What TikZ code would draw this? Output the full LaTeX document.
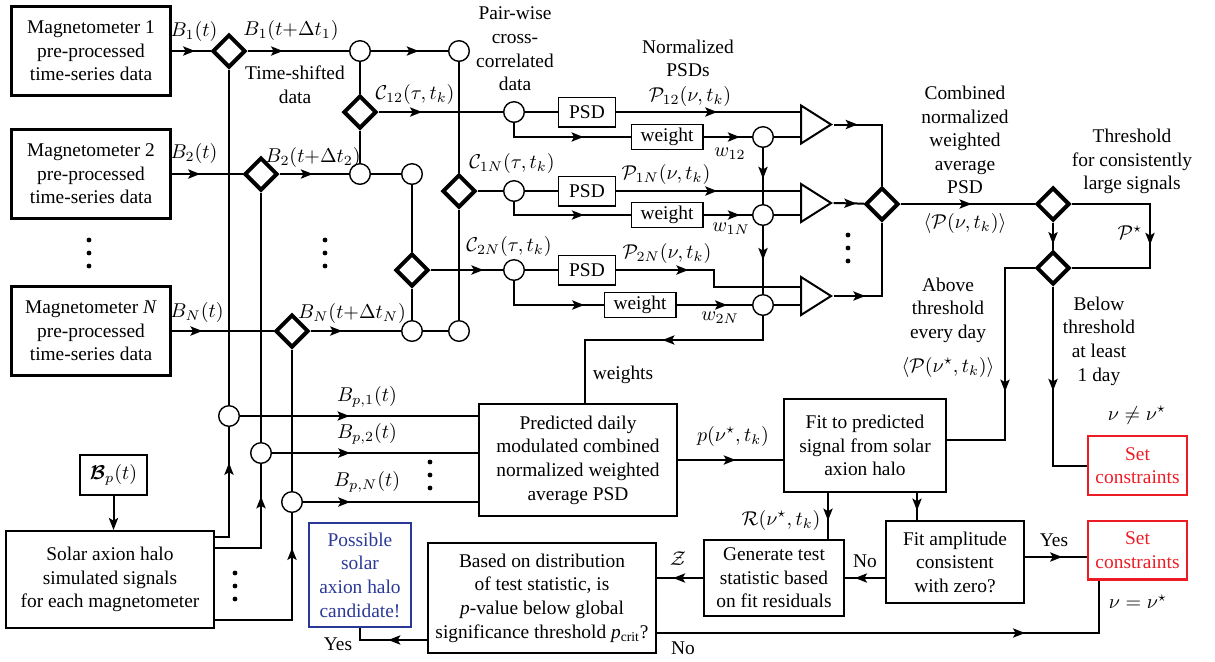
\documentclass[tikz,border=0pt]{standalone}
\usepackage{amsmath,amssymb}
\usepackage{bm}
\usepackage{fontspec}
\setmainfont{Liberation Serif}[Scale=0.97]
\usepackage{tikz}
\usetikzlibrary{positioning, shapes.geometric, arrows.meta, calc, decorations.markings}
\usepackage{xcolor}
\definecolor{setred}{RGB}{237,28,36}
\definecolor{candblue}{RGB}{43,57,150}
\newcommand{\figfont}{\fontsize{10pt}{11.8pt}\selectfont}

\begin{document}
\begin{tikzpicture}[x=0.5pt, y=-0.5pt, font=\figfont, line width=1pt,
    magbox/.style={draw, line width=1.5pt, align=center, minimum width=79.5pt, minimum height=44.5pt, inner sep=1pt},
    block/.style={draw, line width=1.2pt, align=center, inner sep=1pt},
    setbox/.style={block, draw=setred, text=setred, minimum width=49.3pt, minimum height=29.3pt},
    thinbox/.style={draw, line width=0.7pt, inner sep=0pt},
    splitter/.style={diamond, draw, fill=white, line width=2pt, minimum size=16.5pt, inner sep=0pt},
    junction/.style={circle, draw, fill=white, line width=0.7pt, minimum size=10.3pt, inner sep=0pt},
    avgtri/.style={isosceles triangle, isosceles triangle stretches, draw, line width=1pt, minimum width=19pt, minimum height=15pt, inner sep=0pt},
    midarr/.style={postaction={decorate}, decoration={markings, mark=at position #1 with {\arrow{Stealth[length=6pt, width=4.6pt, inset=1.3pt]}}}},
    midarr/.default=0.5]
    \useasboundingbox (0,0) rectangle (1215,661);

    \node[magbox] (mag1) at (91,51) {Magnetometer 1\\pre-processed\\time-series data};
    \node[magbox] (mag2) at (91,174) {Magnetometer 2\\pre-processed\\time-series data};
    \node[magbox] (magN) at (91,331) {Magnetometer \textit{N}\\pre-processed\\time-series data};

    \node[splitter] (d1) at (229,51) {};
    \node[splitter] (d2) at (261,174) {};
    \node[splitter] (dN) at (292,331) {};
    \node[splitter] (x12) at (360,112) {};
    \node[splitter] (x1N) at (459,191) {};
    \node[splitter] (x2N) at (412,270) {};
    \node[splitter] (comb) at (882,204) {};
    \node[splitter] (thr) at (1053,204) {};
    \node[splitter] (thr2) at (1053,268) {};

    \node[junction] (s1) at (360,51) {};
    \node[junction] (s1b) at (459,51) {};
    \node[junction] (s2) at (360,174) {};
    \node[junction] (s2b) at (412,174) {};
    \node[junction] (sN) at (412,331) {};
    \node[junction] (sNb) at (459,331) {};
    \node[junction] (c12) at (514,112) {};
    \node[junction] (c1N) at (514,191) {};
    \node[junction] (c2N) at (514,270) {};
    \node[junction] (w12) at (763,137) {};
    \node[junction] (w1N) at (763,215) {};
    \node[junction] (w2N) at (763,305) {};
    \node[junction] (p1) at (229,416) {};
    \node[junction] (p2) at (261,453) {};
    \node[junction] (pN) at (292,502) {};

    \node[thinbox, minimum width=28.3pt, minimum height=14.8pt] (psd1) at (587,112) {PSD};
    \node[thinbox, minimum width=28.3pt, minimum height=14.8pt] (psd2) at (587,191) {PSD};
    \node[thinbox, minimum width=28.3pt, minimum height=14.8pt] (psd3) at (587,270) {PSD};
    \node[thinbox, minimum width=35.8pt, minimum height=12.3pt] (wt1) at (667,137) {weight};
    \node[thinbox, minimum width=35.8pt, minimum height=12.3pt] (wt2) at (667,215) {weight};
    \node[thinbox, minimum width=35.8pt, minimum height=12.3pt] (wt3) at (640,305) {weight};

    \node[avgtri] (t1) at (811.5,124.5) {};
    \node[avgtri] (t2) at (811.5,203) {};
    \node[avgtri] (t3) at (811.5,296) {};

    \node[block, minimum width=98.8pt, minimum height=55.8pt] (pred) at (578,460) {Predicted daily\\modulated combined\\normalized weighted\\average PSD};
    \node[block, minimum width=80.8pt, minimum height=46.3pt] (fit) at (865,445.5) {Fit to predicted\\signal from solar\\axion halo};
    \node[block, minimum width=69.8pt, minimum height=37.8pt] (gen) at (774,578) {Generate test\\statistic based\\on fit residuals};
    \node[block, minimum width=68.8pt, minimum height=40.8pt] (amp) at (955,562) {Fit amplitude\\consistent\\with zero?};
    \node[setbox] (setc1) at (1137.5,465.5) {Set\\constraints};
    \node[setbox] (setc2) at (1137.5,550) {Set\\constraints};
    \node[block, minimum width=113.8pt, minimum height=54.8pt] (pval) at (542,598) {Based on distribution\\of test statistic, is\\\textit{p}-value below global\\significance threshold \textit{p}\textsubscript{crit}?};
    \node[block, draw=candblue, text=candblue, minimum width=50.8pt, minimum height=51.8pt] (cand) at (360,575) {Possible\\solar\\axion halo\\candidate!};
    \node[block, minimum width=103.8pt, minimum height=48.3pt] (solar) at (110,579.5) {Solar axion halo\\simulated signals\\for each magnetometer};
    \node[block, minimum width=33.3pt, minimum height=19.8pt] (bp) at (113.5,475) {$\bm{\mathcal{B}}_p(t)$};

    \draw[midarr=0.6] (mag1) -- (d1);
    \draw[midarr=0.4] (mag2) -- (d2);
    \draw[midarr=0.3] (magN) -- (dN);
    \draw[midarr=0.35] (d1) -- (s1);
    \draw[midarr=0.48] (d2) -- (s2);
    \draw[midarr=0.35] (dN) -- (sN);
    \draw[midarr=0.62] (s1) -- (s1b);
    \draw (s2) -- (s2b);
    \draw (sN) -- (sNb);
    \draw (s1) -- (x12) -- (s2);
    \draw (s1b) -- (x1N) -- (sNb);
    \draw (s2b) -- (x2N) -- (sN);
    \draw (d1) -- (p1);
    \draw (d2) -- (p2);
    \draw (dN) -- (pN);

    \draw[midarr=0.35] (x12) -- (c12);
    \draw (x1N) -- (c1N);
    \draw[midarr=0.73] (x2N) -- (c2N);
    \draw (c12) -- (psd1);
    \draw (c1N) -- (psd2);
    \draw (c2N) -- (psd3);
    \draw[midarr=0.55] (psd1) -- (psd1 -| t1.west);
    \draw[midarr=0.55] (psd2) -- (psd2 -| t2.west);
    \coordinate (bend3) at (714,287);
    \draw[midarr=0.36] (psd3.east) -| (bend3) -- (bend3 -| t3.west);
    \draw[midarr=0.64] (c12) |- (wt1);
    \draw[midarr=0.64] (c1N) |- (wt2);
    \draw[midarr=0.83] (c2N) |- (wt3);
    \draw[midarr=0.75] (wt1) -- (w12);
    \draw[midarr=0.75] (wt2) -- (w1N);
    \draw[midarr=0.67] (wt3) -- (w2N);
    \draw (w12) -- (w12 -| t1.west);
    \draw (w1N) -- (w1N -| t2.west);
    \draw (w2N) -- (w2N -| t3.west);
    \draw[midarr=0.55] (w12) -- (w1N);
    \draw[midarr=0.5] (w1N) -- (w2N);
    \coordinate (wts) at (763,340);
    \draw[midarr=0.47] (w2N) -- (wts) -| ($(pred.north)+(7,0)$);

    \draw[midarr=0.22] (t1.apex) -| (comb);
    \draw[midarr=0.75] (t2.apex) -- (comb);
    \draw[midarr=0.26] (t3.apex) -| (comb);
    \draw[midarr=0.53] (comb) -- (thr);
    \coordinate (pstar) at (1150,204);
    \draw[midarr=0.54] (thr) -- (pstar) |- (thr2);
    \draw[midarr=0.8] (thr) -- (thr2);
    \coordinate (above) at (1005,440);
    \draw[midarr=0.59] (thr2) -| (above) -- (above -| fit.east);
    \draw[midarr=0.49] (thr2) |- (setc1);

    \draw[midarr=0.55] (pred) -- (pred -| fit.west);
    \coordinate (rfit) at ($(fit.south)+(-37,0)$);
    \draw[midarr=0.6] (rfit) -- (rfit |- gen.north);
    \coordinate (afit) at ($(fit.south)+(52,0)$);
    \draw[midarr=0.65] (afit) -- (afit |- amp.north);
    \draw[midarr=0.75] (amp.west |- gen) -- (gen);
    \coordinate (yesout) at ($(amp.east)+(0,-5)$);
    \draw[midarr=0.6] (yesout) -- (yesout -| setc2.west);
    \draw[midarr=0.65] (gen) -- (gen -| pval.east);
    \coordinate (yescand) at ($(pval.west)+(0,42)$);
    \draw[midarr=0.49] (yescand) -| (cand);
    \coordinate (nopval) at ($(pval.east)+(0,35)$);
    \coordinate (noset) at ($(setc2.south)+(-39,0)$);
    \draw[midarr=0.745] (nopval) -| (noset);

    \draw[-{Stealth[length=6pt, width=4.6pt, inset=1.3pt]}] (bp) -- (bp |- solar.north);
    \coordinate (sol1) at ($(solar.east)+(0,-43)$);
    \coordinate (sol2) at ($(solar.east)+(0,-32)$);
    \coordinate (solN) at ($(solar.east)+(0,40)$);
    \draw[midarr=0.71] (sol1) -| (p1);
    \draw[midarr=0.75] (sol2) -| (p2);
    \draw[midarr=0.81] (solN) -| (pN);
    \draw[midarr=0.46] (p1) -- (p1 -| pred.west);
    \draw[midarr=0.38] (p2) -- (p2 -| pred.west);
    \draw[midarr=0.27] (pN) -- (pN -| pred.west);

    \foreach \x/\y in {89/253, 325/253, 848/248, 235/586, 430/475}
        \foreach \k in {-1,0,1}
            \fill (\x,\y+13*\k) circle (2.4);

    \node (lb1) at (194,31) {$B_1(t)$};
    \node (lb1s) at (291,30) {$B_1(t{+}\Delta t_1)$};
    \node (lb2) at (194,153) {$B_2(t)$};
    \node (lb2s) at (313,157) {$B_2(t{+}\Delta t_2)$};
    \node (lbN) at (197,312) {$B_N(t)$};
    \node (lbNs) at (352,313) {$B_N(t{+}\Delta t_N)$};
    \node[align=center] (shift) at (295,85) {Time-shifted\\data};
    \node[align=center] (pair) at (515,49) {Pair-wise\\cross-\\correlated\\data};
    \node[align=center] (norm) at (688,58.5) {Normalized\\PSDs};
    \node (lc12) at (415,94) {$\mathcal{C}_{12}(\tau,t_k)$};
    \node (lc1N) at (512,163) {$\mathcal{C}_{1N}(\tau,t_k)$};
    \node (lc2N) at (509,246) {$\mathcal{C}_{2N}(\tau,t_k)$};
    \node (lp12) at (690,96) {$\mathcal{P}_{12}(\nu,t_k)$};
    \node (lp1N) at (666,174) {$\mathcal{P}_{1N}(\nu,t_k)$};
    \node (lp2N) at (667,253) {$\mathcal{P}_{2N}(\nu,t_k)$};
    \node (lw12) at (730,154) {$w_{12}$};
    \node (lw1N) at (731,229) {$w_{1N}$};
    \node (lw2N) at (720,318) {$w_{2N}$};
    \node (lwts) at (623,375) {weights};
    \node[align=center] (combtxt) at (965,140) {Combined\\normalized\\weighted\\average\\PSD};
    \node (lavg) at (965,223) {$\langle\mathcal{P}(\nu,t_k)\rangle$};
    \node[align=center] (thrtxt) at (1132,161.5) {Threshold\\for consistently\\large signals};
    \node (lpstar) at (1130,233) {$\mathcal{P}^\star$};
    \node[align=center] (abovetxt) at (948,310) {Above\\threshold\\every day};
    \node (lavgs) at (948,367) {$\langle\mathcal{P}(\nu^\star,t_k)\rangle$};
    \node[align=center] (belowtxt) at (1099,341) {Below\\threshold\\at least\\1 day};
    \node (lneq) at (1137,415) {$\nu\neq\nu^\star$};
    \node (leq) at (1138,602) {$\nu=\nu^\star$};
    \node (lpn) at (733,436) {$p(\nu^\star,t_k)$};
    \node (lR) at (781,520) {$\mathcal{R}(\nu^\star,t_k)$};
    \node (lZ) at (678,559) {$\mathcal{Z}$};
    \node (lno1) at (865,561) {No};
    \node (lyes1) at (1054,540) {Yes};
    \node (lno2) at (683,648) {No};
    \node (lyes2) at (338,644) {Yes};
    \node (lbp1) at (367,397) {$B_{p,1}(t)$};
    \node (lbp2) at (367,434) {$B_{p,2}(t)$};
    \node (lbpN) at (367,482) {$B_{p,N}(t)$};
\end{tikzpicture}
\end{document}
